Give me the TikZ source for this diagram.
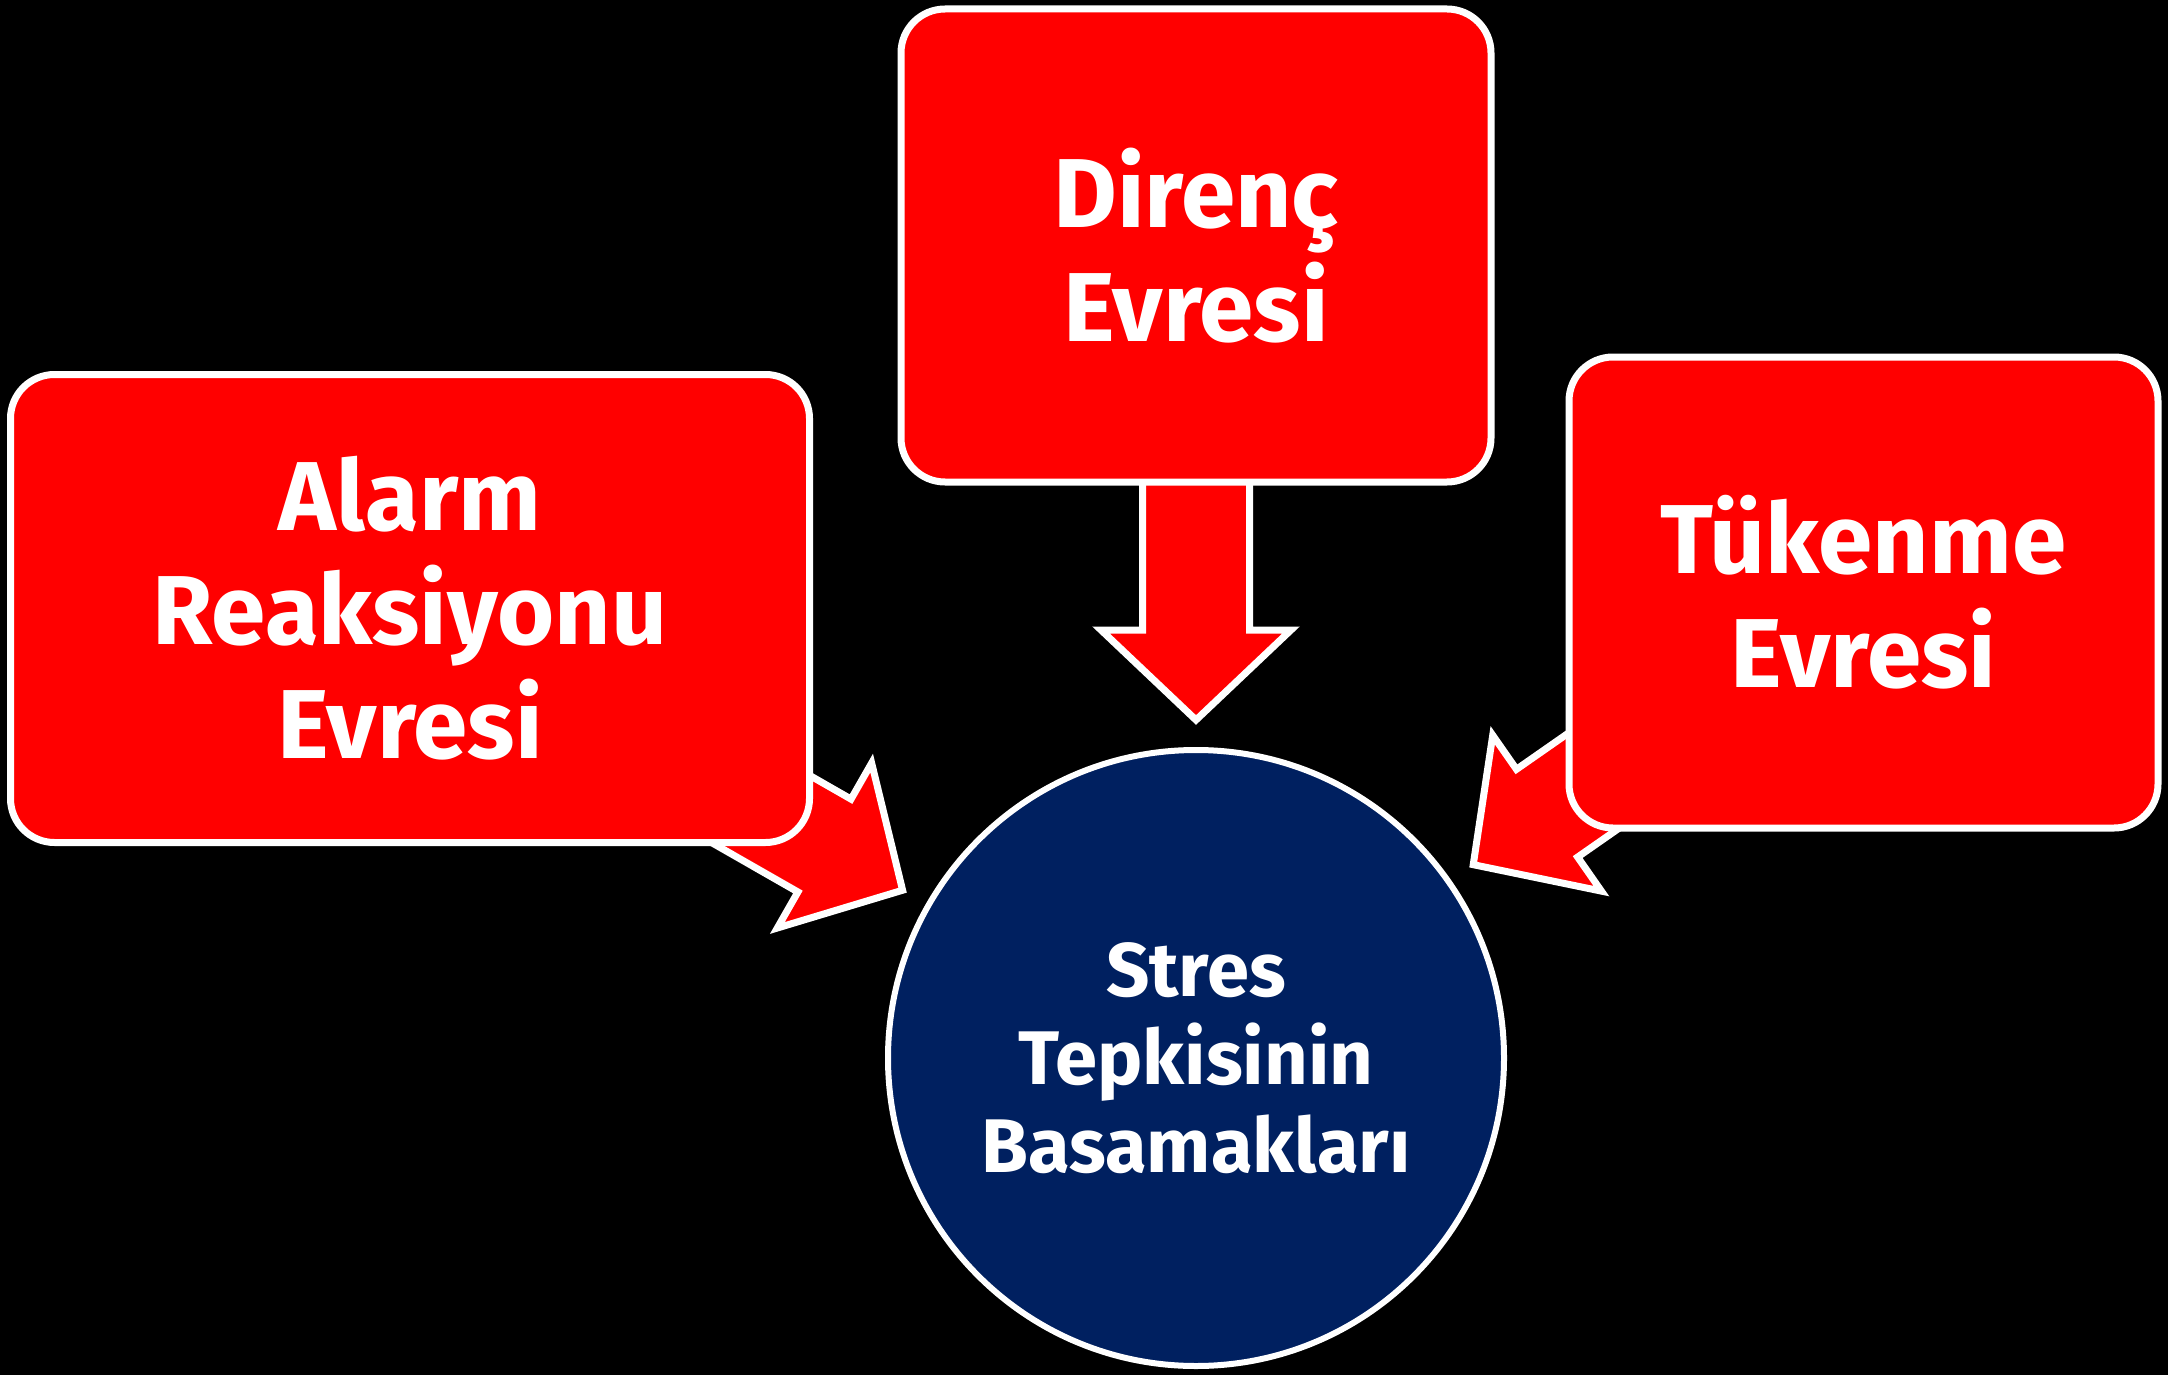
\documentclass[tikz,border=0pt]{standalone}
\usepackage{fontspec}
\setmainfont{Fira Sans}
\usetikzlibrary{calc}
\pgfdeclarelayer{background}
\pgfsetlayers{background,main}
\definecolor{navy}{HTML}{002060}
\tikzset{
    stage/.style={draw=white, line width=3.5pt, fill=red, rounded corners=22pt,
        text=white, align=center, inner sep=0pt,
        font=\fontsize{49}{57}\selectfont\bfseries},
    hub/.style={circle, draw=white, line width=3pt, fill=navy, text=white,
        align=center, inner sep=0pt, minimum size=308pt,
        font=\fontsize{38}{44}\selectfont\bfseries},
    block arrow/.style={draw=white, line width=3.5pt, fill=red, line join=miter},
}

% block arrow from #1 (tail, hidden under the box) to #2 (tip)
\newcommand\blockarrow[2]{%
    \coordinate (neck) at ($(#2)!45pt!(#1)$);
    \draw[block arrow] ($(#1)!26.75pt!90:(#2)$) -- ($(neck)!26.75pt!90:(#2)$)
        -- ($(neck)!47.5pt!90:(#2)$) -- (#2) -- ($(neck)!47.5pt!-90:(#2)$)
        -- ($(neck)!26.75pt!-90:(#2)$) -- ($(#1)!26.75pt!-90:(#2)$) -- cycle;
}

\begin{document}
\begin{tikzpicture}[x=0.5pt, y=-0.5pt]

    \path[use as bounding box] (0,0) rectangle (2168,1375);

    \node[stage, minimum width=399.5pt, minimum height=234pt] (alarm) at (410,608.5) {Alarm\\Reaksiyonu\\Evresi};
    \node[stage, minimum width=295pt, minimum height=236.5pt] (direnc) at (1196,245.5) {Direnç\\Evresi};
    \node[stage, minimum width=294.5pt, minimum height=235.5pt] (tukenme) at (1863.5,592.5) {Tükenme\\Evresi};
    \node[hub] (stres) at (1196,1058) {Stres\\Tepkisinin\\Basamakları};

    \coordinate (alarm tip) at ($(stres)!169pt!(alarm)$);
    \coordinate (direnc tip) at ($(stres)!169pt!(direnc)$);
    \coordinate (tukenme tip) at ($(stres)!169pt!(tukenme)$);

    \begin{pgfonlayer}{background}
        \fill[black] (0,0) rectangle (2168,1375);
        \blockarrow{alarm}{alarm tip}
        \blockarrow{direnc}{direnc tip}
        \blockarrow{tukenme}{tukenme tip}
    \end{pgfonlayer}

\end{tikzpicture}
\end{document}
